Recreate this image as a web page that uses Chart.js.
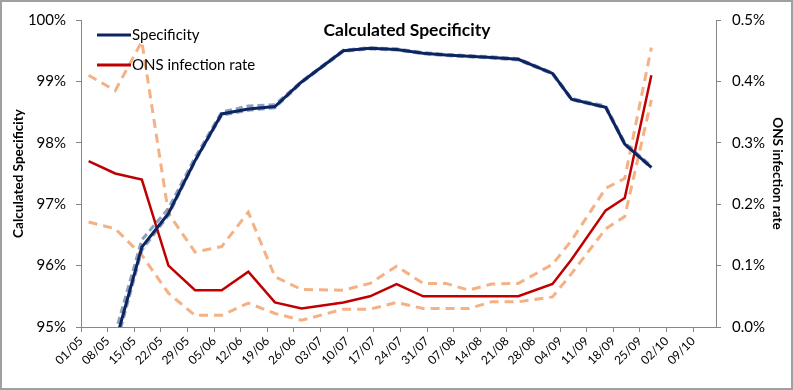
<!DOCTYPE html>
<html>
<head>
<meta charset="utf-8">
<script src="https://cdn.jsdelivr.net/npm/chart.js@4.4.1/dist/chart.umd.min.js"></script>
<style>
  html, body { margin: 0; padding: 0; background: #fff; }
</style>
</head>
<body>
<canvas id="chart" width="793" height="390"></canvas>
<script>
// sample dates (dd/mm, 2020)
const sampleDates = ['03/05', '10/05', '17/05', '24/05', '31/05', '07/06', '14/06', '21/06', '28/06', '09/07', '16/07',
  '23/07', '30/07', '05/08', '11/08', '17/08', '24/08', '02/09', '07/09', '16/09', '21/09', '28/09'];

// calculated specificity (%), left axis
const specificity = [94.40, 94.74, 96.30, 96.85, 97.71, 98.47, 98.55, 98.59, 98.99, 99.50, 99.54,
  99.52, 99.46, 99.43, 99.41, 99.39, 99.36, 99.13, 98.71, 98.58, 97.98, 97.60];
const specUpper = [94.55, 94.90, 96.42, 96.93, 97.76, 98.50, 98.60, 98.62, 99.00, 99.51, 99.55,
  99.53, 99.47, 99.44, 99.42, 99.40, 99.37, 99.14, 98.72, 98.60, 98.00, 97.62];
const specLower = [94.30, 94.65, 96.25, 96.82, 97.70, 98.45, 98.53, 98.57, 98.98, 99.49, 99.53,
  99.51, 99.45, 99.42, 99.40, 99.38, 99.35, 99.12, 98.70, 98.57, 97.97, 97.59];

// ONS infection rate (%), right axis
const onsRate = [0.27, 0.25, 0.24, 0.10, 0.06, 0.06, 0.09, 0.04, 0.03, 0.04, 0.05,
  0.07, 0.05, 0.05, 0.05, 0.05, 0.05, 0.07, 0.11, 0.19, 0.21, 0.41];
const onsUpper = [0.41, 0.385, 0.465, 0.185, 0.122, 0.131, 0.187, 0.082, 0.061, 0.060, 0.071,
  0.099, 0.071, 0.071, 0.060, 0.070, 0.071, 0.102, 0.141, 0.226, 0.242, 0.455];
const onsLower = [0.171, 0.160, 0.117, 0.055, 0.019, 0.019, 0.039, 0.022, 0.011, 0.029, 0.029,
  0.040, 0.030, 0.030, 0.030, 0.041, 0.041, 0.049, 0.087, 0.160, 0.180, 0.370];

const xTickLabels = ['01/05', '08/05', '15/05', '22/05', '29/05', '05/06', '12/06', '19/06', '26/06', '03/07', '10/07', '17/07',
  '24/07', '31/07', '07/08', '14/08', '21/08', '28/08', '04/09', '11/09', '18/09', '25/09', '02/10', '09/10'];

const chartTitle = 'Calculated Specificity';

// days since 01/05
function dayOf(s) {
  const [d, m] = s.split('/').map(Number);
  return Math.round((Date.UTC(2020, m - 1, d) - Date.UTC(2020, 4, 1)) / 86400000);
}
const xs = sampleDates.map(dayOf);
const pts = arr => arr.map((v, i) => ({ x: xs[i], y: v }));

const FONT = 'Lato, "Open Sans", sans-serif';
const AXIS = '#868686';

const overlay = {
  id: 'overlay',
  beforeDraw(chart) {
    const ctx = chart.ctx;
    ctx.save();
    ctx.fillStyle = '#fff';
    ctx.fillRect(0, 0, chart.width, chart.height);
    ctx.restore();
  },
  afterDraw(chart) {
    const ctx = chart.ctx;
    ctx.save();
    // title inside the plot
    ctx.fillStyle = '#000';
    ctx.font = 'bold 17.5px ' + FONT;
    ctx.textAlign = 'center';
    ctx.textBaseline = 'middle';
    ctx.fillText(chartTitle, 407, 30);
    // legend (first two series)
    ctx.font = '15px ' + FONT;
    ctx.textAlign = 'left';
    chart.data.datasets.slice(0, 2).forEach((ds, i) => {
      const y = 35 + i * 30;
      ctx.strokeStyle = ds.borderColor;
      ctx.lineWidth = 3;
      ctx.beginPath();
      ctx.moveTo(97, y);
      ctx.lineTo(131, y);
      ctx.stroke();
      ctx.fillStyle = '#000';
      ctx.fillText(ds.label, 132, y);
    });
    // chart border
    ctx.strokeStyle = '#a0a0a0';
    ctx.lineWidth = 2;
    ctx.strokeRect(1, 1, chart.width - 2, chart.height - 2);
    ctx.restore();
  }
};

new Chart(document.getElementById('chart'), {
  type: 'line',
  data: {
    datasets: [
      { label: 'Specificity', data: pts(specificity), yAxisID: 'y', borderColor: '#0c2461', borderWidth: 3 },
      { label: 'ONS infection rate', data: pts(onsRate), yAxisID: 'y2', borderColor: '#c00000', borderWidth: 2.5 },
      { label: 'spec upper', data: pts(specUpper), yAxisID: 'y', borderColor: 'rgba(110,135,175,0.8)', borderWidth: 3, borderDash: [7, 4] },
      { label: 'spec lower', data: pts(specLower), yAxisID: 'y', borderColor: 'rgba(110,135,175,0.8)', borderWidth: 3, borderDash: [7, 4] },
      { label: 'ons upper', data: pts(onsUpper), yAxisID: 'y2', borderColor: '#f4b183', borderWidth: 3, borderDash: [9, 6] },
      { label: 'ons lower', data: pts(onsLower), yAxisID: 'y2', borderColor: '#f4b183', borderWidth: 3, borderDash: [9, 6] }
    ]
  },
  options: {
    responsive: false,
    animation: false,
    devicePixelRatio: 1,
    layout: { padding: { top: 19, left: 0, right: 0, bottom: 0 } },
    elements: { point: { radius: 0 }, line: { tension: 0, fill: false } },
    plugins: { legend: { display: false }, tooltip: { enabled: false } },
    scales: {
      x: {
        type: 'linear',
        min: 0,
        max: 167,
        afterFit(s) { s.height = 63; },
        border: { color: AXIS },
        grid: { drawOnChartArea: false, tickLength: 5, color: AXIS },
        ticks: {
          stepSize: 7,
          includeBounds: false,
          autoSkip: false,
          minRotation: 45,
          maxRotation: 45,
          padding: 2,
          color: '#000',
          font: { family: FONT, size: 12 },
          callback: v => xTickLabels[Math.round(v / 7)]
        }
      },
      y: {
        position: 'left',
        min: 95,
        max: 100,
        afterFit(s) { s.width = 81; },
        border: { color: AXIS },
        grid: { drawOnChartArea: false, tickLength: 5, color: AXIS },
        ticks: { stepSize: 1, padding: 10, color: '#000', font: { family: FONT, size: 15 }, callback: v => v + '%' },
        title: { display: true, text: 'Calculated Specificity', color: '#000', font: { family: FONT, size: 13.5, weight: 'bold' }, padding: { top: 11, bottom: 0 } }
      },
      y2: {
        position: 'right',
        min: 0,
        max: 0.5,
        afterFit(s) { s.width = 77; },
        border: { color: AXIS },
        grid: { drawOnChartArea: false, tickLength: 5, color: AXIS },
        ticks: { stepSize: 0.1, padding: 11, color: '#000', font: { family: FONT, size: 15 }, callback: v => v.toFixed(1) + '%' },
        title: { display: true, text: 'ONS infection rate', color: '#000', font: { family: FONT, size: 13.5, weight: 'bold' }, padding: { top: 8, bottom: 0 } }
      }
    }
  },
  plugins: [overlay]
});
</script>
</body>
</html>
